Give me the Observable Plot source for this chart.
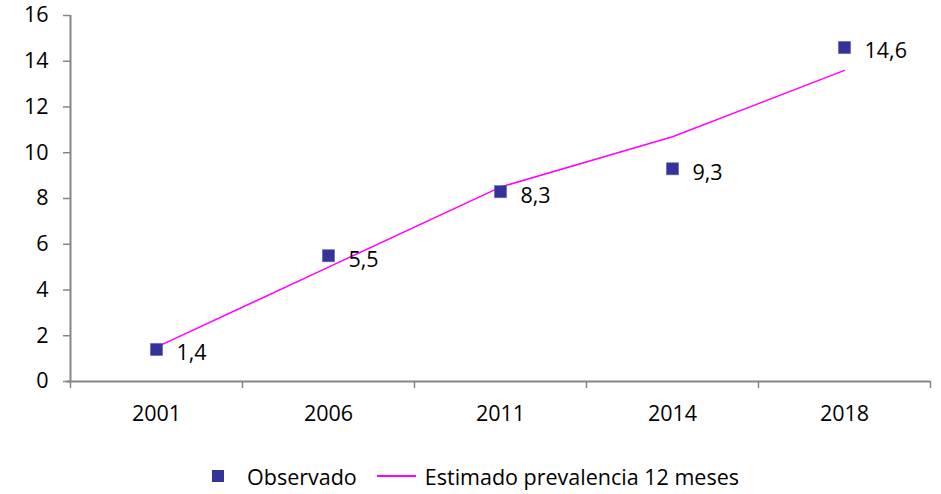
<!DOCTYPE html>
<html>
<head>
<meta charset="utf-8">
<script src="https://cdn.jsdelivr.net/npm/d3@7"></script>
<script src="https://cdn.jsdelivr.net/npm/@observablehq/plot@0.6"></script>
<style>
  body { margin: 0; background: #fff; font-family: "Open Sans", Lato, sans-serif; }
  #legend { display: flex; justify-content: center; align-items: center; height: 44px; padding-top: 8px; box-sizing: border-box; font-size: 21.5px; color: #000; padding-left: 10px; }
  .sw { display: inline-block; }
</style>
</head>
<body>
<div id="chart"></div>
<div id="legend">
  <span class="sw" style="width:12px;height:12px;background:#333399;margin-right:23px"></span>
  <span>Observado</span>
  <span class="sw" style="width:39px;height:1.5px;background:#ff00ff;margin-left:20px;margin-right:9px"></span>
  <span>Estimado prevalencia 12 meses</span>
</div>
<script>
const years = ["2001", "2006", "2011", "2014", "2018"];
const observado = [1.4, 5.5, 8.3, 9.3, 14.6];
const estimado = [1.5, 5.0, 8.5, 10.7, 13.6];
const labels = ["1,4", "5,5", "8,3", "9,3", "14,6"];
const yTicks = [0, 2, 4, 6, 8, 10, 12, 14, 16];

const obs = years.map((y, i) => ({ i, year: y, value: observado[i], label: labels[i] }));
const est = years.map((y, i) => ({ i, year: y, value: estimado[i] }));
const boundaries = d3.range(years.length + 1).map(k => k - 0.5);

const axisColor = "#868686";
const fs = 21.5;

const chart = Plot.plot({
  width: 941,
  height: 450,
  marginLeft: 70,
  marginRight: 11,
  marginTop: 15,
  marginBottom: 69,
  style: { fontFamily: "'Open Sans', Lato, sans-serif", fontSize: fs + "px", color: "#000", background: "#fff" },
  x: { type: "linear", domain: [-0.5, years.length - 0.5] },
  y: { domain: [0, 16] },
  marks: [
    Plot.axisY({ ticks: yTicks, tickSize: 7, tickPadding: 15, stroke: axisColor, strokeWidth: 1.5, color: "#000", fontSize: fs, label: null, tickFormat: d => String(d) }),
    Plot.axisX({ ticks: boundaries, tickSize: 7, tickFormat: () => "", stroke: axisColor, strokeWidth: 1.5, label: null }),
    Plot.axisX({ ticks: d3.range(years.length), tickSize: 0, tickPadding: 24, tickFormat: i => years[i], color: "#000", fontSize: fs, label: null }),
    Plot.ruleY([0], { stroke: axisColor, strokeWidth: 2, x1: -0.52, x2: years.length - 0.5 }),
    Plot.ruleX([-0.5], { stroke: axisColor, strokeWidth: 2, y1: 0, y2: 16 }),
    Plot.line(est, { x: "i", y: "value", stroke: "#ff00ff", strokeWidth: 1.5, curve: "linear" }),
    Plot.dot(obs, { x: "i", y: "value", symbol: "square", r: 6.8, fill: "#333399", stroke: "#5555aa", strokeWidth: 0.5 }),
    Plot.text(obs, { x: "i", y: "value", text: "label", textAnchor: "start", dx: 20, dy: 4, fontSize: fs, fill: "#000" })
  ]
});
document.getElementById("chart").appendChild(chart);
</script>
</body>
</html>
